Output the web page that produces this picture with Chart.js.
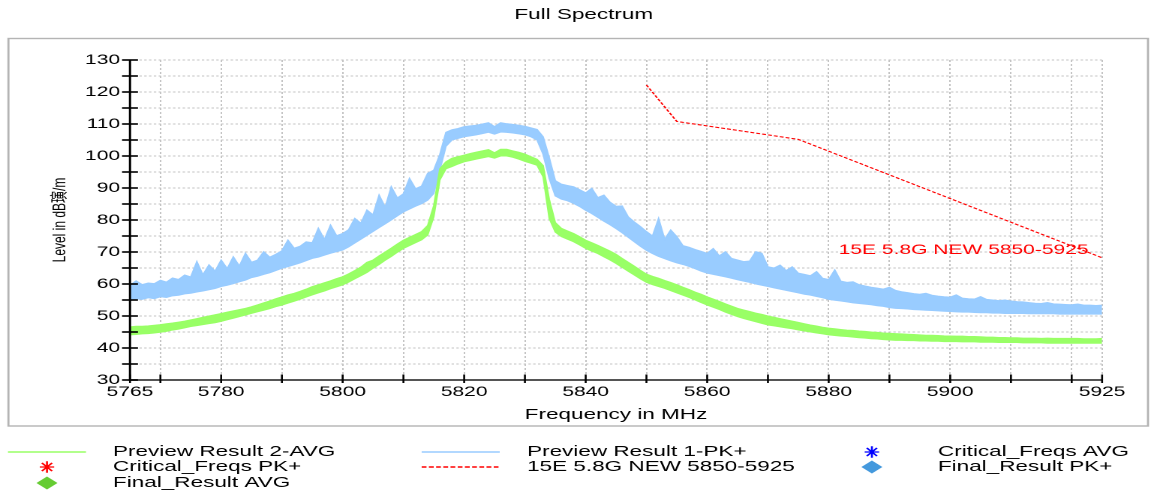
<!DOCTYPE html>
<html><head><meta charset="utf-8">
<script src="https://cdn.jsdelivr.net/npm/chart.js@4.4.1/dist/chart.umd.min.js"></script>
<style>
html,body{margin:0;padding:0;background:#fff;overflow:hidden;}
#wrap{position:absolute;left:0;top:0;width:771px;height:493px;transform:scaleX(1.50065);transform-origin:0 0;}
canvas{display:block;}
</style></head><body>
<div id="wrap"><canvas id="c" width="771" height="493"></canvas></div>
<script>
const chartTitle = 'Full Spectrum';
const xTitle = 'Frequency in MHz';
const yTitle = 'Level in dB璌/m';
const limitLabel = '15E 5.8G NEW 5850-5925';

const freqMHz = [
5765,5766,5767,5768,5769,5770,5771,5772,5773,5774,
5775,5776,5777,5778,5779,5780,5781,5782,5783,5784,
5785,5786,5787,5788,5789,5790,5791,5792,5793,5794,
5795,5796,5797,5798,5799,5800,5801,5802,5803,5804,
5805,5806,5807,5808,5809,5810,5811,5812,5813,5814,
5815,5816,5817,5818,5819,5820,5821,5822,5823,5824,
5825,5826,5827,5828,5829,5830,5831,5832,5833,5834,
5835,5836,5837,5838,5839,5840,5841,5842,5843,5844,
5845,5846,5847,5848,5849,5850,5851,5852,5853,5854,
5855,5856,5857,5858,5859,5860,5861,5862,5863,5864,
5865,5866,5867,5868,5869,5870,5871,5872,5873,5874,
5875,5876,5877,5878,5879,5880,5881,5882,5883,5884,
5885,5886,5887,5888,5889,5890,5891,5892,5893,5894,
5895,5896,5897,5898,5899,5900,5901,5902,5903,5904,
5905,5906,5907,5908,5909,5910,5911,5912,5913,5914,
5915,5916,5917,5918,5919,5920,5921,5922,5923,5924,
5925];

// Preview Result 2-AVG : lower / upper edge of the trace band (dBuV/m)
const avgLower = [
44.1,44.2,44.4,44.5,44.7,44.9,45.2,45.6,45.9,46.3,
46.7,47.0,47.3,47.6,47.9,48.3,48.8,49.3,49.8,50.3,
50.8,51.3,51.8,52.3,52.9,53.4,54.0,54.6,55.2,55.9,
56.6,57.2,57.8,58.5,59.1,59.7,60.6,61.6,62.6,63.6,
64.9,66.1,67.4,68.6,69.9,71.1,72.0,72.9,73.8,75.3,
81.0,92.5,96.0,96.7,97.5,98.2,98.6,99.0,99.4,99.8,
99.3,100.0,100.0,99.6,99.0,98.3,97.7,97.1,93.5,80.5,
76.2,74.8,74.0,73.2,72.2,71.1,70.3,69.5,68.5,67.5,
66.4,65.2,64.0,62.8,61.6,60.5,59.8,59.2,58.6,57.9,
57.2,56.5,55.8,55.0,54.2,53.4,52.7,52.0,51.2,50.5,
49.8,49.2,48.7,48.2,47.7,47.2,46.9,46.6,46.3,46.0,
45.6,45.3,45.0,44.7,44.4,44.1,43.9,43.7,43.6,43.4,
43.2,43.1,42.9,42.8,42.6,42.5,42.4,42.4,42.3,42.3,
42.2,42.2,42.1,42.1,42.0,42.0,42.0,41.9,41.9,41.9,
41.8,41.8,41.8,41.7,41.7,41.7,41.7,41.6,41.6,41.6,
41.6,41.5,41.5,41.5,41.5,41.5,41.5,41.5,41.5,41.5,
41.5];
const avgUpper = [
46.6,46.8,46.8,46.9,47.1,47.3,47.6,47.8,48.1,48.4,
48.8,49.2,49.6,50.0,50.4,50.8,51.2,51.6,52.0,52.4,
52.9,53.5,54.1,54.7,55.4,56.0,56.6,57.1,57.7,58.4,
59.2,59.8,60.4,61.0,61.7,62.3,63.2,64.2,65.3,66.8,
67.5,68.8,70.0,71.2,72.5,73.7,74.6,75.5,76.4,78.3,
84.5,96.0,98.2,99.3,99.8,100.3,100.8,101.2,101.6,102.0,
101.0,102.1,102.1,101.6,101.2,100.6,99.8,99.0,97.0,86.5,
79.2,77.4,76.6,75.8,74.8,73.7,72.9,72.1,71.2,70.3,
69.3,68.0,66.8,65.6,64.3,63.1,62.4,61.8,61.1,60.5,
59.8,59.0,58.3,57.5,56.8,56.0,55.3,54.6,53.8,53.1,
52.4,51.9,51.4,50.9,50.5,50.0,49.6,49.2,48.8,48.4,
48.0,47.6,47.2,46.9,46.5,46.2,46.0,45.8,45.6,45.5,
45.3,45.2,45.0,44.9,44.7,44.6,44.5,44.4,44.3,44.2,
44.1,44.0,44.0,43.9,43.8,43.75,43.7,43.7,43.6,43.6,
43.5,43.4,43.4,43.3,43.3,43.2,43.2,43.1,43.1,43.1,
43.0,43.1,43.0,43.0,43.0,43.0,43.0,42.9,42.9,42.9,
43.0];

// Preview Result 1-PK+ : lower / upper edge of the trace band (dBuV/m)
const pkLower = [
54.8,55.4,55.2,55.7,55.4,56.0,55.8,56.3,56.5,56.9,
57.1,57.5,57.8,58.2,58.6,59.2,59.6,60.1,60.7,61.2,
62.0,62.4,63.0,63.5,64.2,64.9,65.4,66.0,66.6,67.3,
68.0,68.4,69.0,69.6,70.1,70.6,71.6,72.8,74.0,75.2,
76.4,77.6,78.8,80.0,81.3,82.5,83.4,84.3,85.1,86.2,
88.3,95.6,103.0,105.0,105.5,106.0,106.3,106.6,107.0,107.4,
106.8,107.5,107.4,107.2,106.9,106.6,106.0,105.0,100.5,93.0,
87.5,86.5,86.0,85.2,84.2,83.0,82.0,80.8,79.6,78.5,
77.3,76.0,74.6,73.2,71.8,70.5,69.5,68.6,67.9,67.2,
66.6,66.1,65.5,64.8,64.0,63.4,63.0,62.6,62.2,61.8,
61.3,60.9,60.5,60.0,59.6,59.2,58.8,58.4,58.0,57.6,
57.2,56.8,56.5,56.1,55.7,55.2,54.9,54.7,54.4,54.1,
53.9,53.7,53.5,53.2,53.0,52.6,52.4,52.3,52.2,52.0,
51.9,51.8,51.7,51.6,51.5,51.4,51.3,51.2,51.2,51.1,
51.0,51.0,50.9,50.9,50.8,50.8,50.8,50.8,50.7,50.7,
50.7,50.7,50.7,50.6,50.6,50.6,50.6,50.6,50.6,50.6,
50.6];
const pkUpper = [
59.6,61.0,59.8,60.3,60.1,61.2,60.6,61.9,61.4,62.8,
62.2,67.0,62.9,66.0,64.0,67.5,64.8,68.5,65.6,69.6,
66.8,67.5,70.1,68.4,69.3,70.4,73.7,71.2,71.8,73.2,
72.9,77.4,73.9,78.4,75.1,75.8,77.0,80.5,79.0,83.1,
81.6,87.8,84.0,90.4,86.9,88.2,93.0,89.8,90.6,94.6,
95.6,100.5,107.4,108.2,108.6,109.2,109.4,109.6,110.0,110.4,
109.2,110.4,110.1,109.9,109.6,109.3,108.8,108.3,106.0,99.5,
92.3,91.2,90.8,90.4,89.5,88.5,89.9,87.0,87.8,85.6,
84.3,84.4,81.0,79.4,78.0,76.4,75.0,80.5,74.0,76.9,
74.8,72.0,71.5,70.8,70.2,69.6,71.1,68.8,70.1,68.0,
67.5,67.0,67.2,70.1,69.6,65.4,65.0,65.9,64.2,65.4,
63.4,63.0,62.6,63.9,61.8,61.4,64.4,60.9,60.5,60.7,
59.8,59.4,59.0,58.7,58.4,59.0,58.0,57.6,57.3,57.0,
56.8,57.1,56.5,56.2,56.0,55.9,56.6,55.6,55.4,55.3,
56.05,55.2,55.0,54.8,55.0,54.7,54.5,54.4,54.2,54.0,
53.9,54.2,53.8,53.7,53.6,53.5,53.75,53.4,53.4,53.3,
53.4];

// 15E 5.8G NEW 5850-5925 limit line
const limitFreq = [5850, 5855, 5875, 5925];
const limitLevel = [122.2, 110.8, 105.2, 68.2];

const xTickValues = [5765,5770,5780,5790,5800,5810,5820,5830,5840,5850,5860,5870,5880,5890,5900,5910,5920,5925];
const xLabelValues = [5765,5780,5800,5820,5840,5860,5880,5900,5925];
const yTickValues = [30,35,40,45,50,55,60,65,70,75,80,85,90,95,100,105,110,115,120,125,130];
const yLabelValues = [30,40,50,60,70,80,90,100,110,120,130];

const FONT = "'Liberation Sans', Arial, 'Noto Sans CJK SC', sans-serif";
const GREEN = '#99ff66', BLUE = '#99ccff', RED = '#ff0000';

const pts = (xs, ys) => xs.map((x, i) => ({x: x, y: ys[i]}));

const datasets = [
  {label:'Preview Result 2-AVG', data:pts(freqMHz, avgUpper), borderColor:GREEN, backgroundColor:GREEN, borderWidth:1, fill:'+1', legendMarker:'line', legendColor:GREEN, legendPos:0},
  {label:'', data:pts(freqMHz, avgLower), borderColor:GREEN, backgroundColor:GREEN, borderWidth:1, fill:false},
  {label:'Preview Result 1-PK+', data:pts(freqMHz, pkUpper), borderColor:BLUE, backgroundColor:BLUE, borderWidth:1, fill:'+1', legendMarker:'line', legendColor:BLUE, legendPos:1},
  {label:'', data:pts(freqMHz, pkLower), borderColor:BLUE, backgroundColor:BLUE, borderWidth:1, fill:false},
  {label:'15E 5.8G NEW 5850-5925', data:pts(limitFreq, limitLevel), borderColor:RED, borderWidth:1.1, borderDash:[2.6,1.4], fill:false, legendMarker:'dash', legendColor:RED, legendPos:4},
  {label:'Critical_Freqs AVG', data:[], pointStyle:'star', borderColor:'#0000ff', legendMarker:'star', legendColor:'#0000ff', legendPos:2},
  {label:'Critical_Freqs PK+', data:[], pointStyle:'star', borderColor:RED, legendMarker:'star', legendColor:RED, legendPos:3},
  {label:'Final_Result PK+', data:[], pointStyle:'rectRot', backgroundColor:'#4499dd', legendMarker:'diamond', legendColor:'#4499dd', legendPos:5},
  {label:'Final_Result AVG', data:[], pointStyle:'rectRot', backgroundColor:'#66cc33', legendMarker:'diamond', legendColor:'#66cc33', legendPos:6}
];

const decor = {
  id:'decor',
  beforeDraw(chart){
    const ctx = chart.ctx;
    ctx.save();
    ctx.fillStyle = '#fff';
    ctx.fillRect(0,0,chart.width,chart.height);
    ctx.strokeStyle = '#b4b4b4';
    ctx.lineWidth = 1.4;
    ctx.strokeRect(5.6, 38.5, 759.4, 387.5);
    // chart title
    ctx.fillStyle = '#000';
    ctx.font = '15px ' + FONT;
    ctx.textAlign = 'center';
    ctx.textBaseline = 'middle';
    ctx.fillText(chartTitle, 389, 15);
    ctx.restore();
  },
  afterDraw(chart){
    const ctx = chart.ctx;
    const a = chart.chartArea;
    const xs = chart.scales.x, ys = chart.scales.y;
    ctx.save();
    // axes
    ctx.strokeStyle = '#555';
    ctx.lineWidth = 2;
    ctx.beginPath(); ctx.moveTo(a.left, a.bottom); ctx.lineTo(a.right, a.bottom); ctx.stroke();
    ctx.strokeStyle = '#000';
    ctx.lineWidth = 1.5;
    ctx.beginPath(); ctx.moveTo(a.left, a.top); ctx.lineTo(a.left, a.bottom+1); ctx.stroke();
    // y tick marks (crossing the axis)
    ctx.lineWidth = 1.6;
    yTickValues.forEach(v => {
      const y = ys.getPixelForValue(v);
      ctx.beginPath(); ctx.moveTo(a.left-5.3, y); ctx.lineTo(a.left+5.3, y); ctx.stroke();
    });
    // x tick marks
    ctx.lineWidth = 1.3;
    xTickValues.forEach(v => {
      const x = xs.getPixelForValue(v);
      ctx.beginPath(); ctx.moveTo(x, a.bottom-5.5); ctx.lineTo(x, a.bottom+3); ctx.stroke();
    });
    // limit line label
    const li = limitFreq.length - 1;
    ctx.fillStyle = RED;
    ctx.font = '14px ' + FONT;
    ctx.textAlign = 'right';
    ctx.textBaseline = 'middle';
    ctx.fillText(limitLabel, xs.getPixelForValue(limitFreq[li]) - 9, ys.getPixelForValue(limitLevel[li]) - 7.5);
    // legend
    const colMarker = [31.3, 307, 581], colText = [75.3, 351.2, 625], rowY = [452, 467, 483];
    ctx.font = '15px ' + FONT;
    ctx.textAlign = 'left';
    chart.data.datasets.forEach(ds => {
      if (ds.legendPos === undefined) return;
      const c = ds.legendPos % 3, r = Math.floor(ds.legendPos / 3);
      const cx = colMarker[c], cy = rowY[r];
      ctx.save();
      if (ds.legendMarker === 'line' || ds.legendMarker === 'dash') {
        ctx.strokeStyle = ds.legendColor;
        ctx.lineWidth = 1.5;
        if (ds.legendMarker === 'dash') ctx.setLineDash([3.2, 1.6]);
        ctx.beginPath(); ctx.moveTo(cx-26, cy); ctx.lineTo(cx+26, cy); ctx.stroke();
      } else if (ds.legendMarker === 'star') {
        ctx.strokeStyle = ds.legendColor;
        ctx.lineWidth = 1.3;
        ctx.beginPath();
        for (let k = 0; k < 4; k++) {
          const ang = k * Math.PI / 4;
          const dx = Math.cos(ang) * 4.8, dy = Math.sin(ang) * 5.8;
          ctx.moveTo(cx-dx, cy-dy); ctx.lineTo(cx+dx, cy+dy);
        }
        ctx.stroke();
      } else if (ds.legendMarker === 'diamond') {
        ctx.fillStyle = ds.legendColor;
        ctx.beginPath();
        ctx.moveTo(cx, cy-6.5); ctx.lineTo(cx+7, cy); ctx.lineTo(cx, cy+6.5); ctx.lineTo(cx-7, cy); ctx.closePath();
        ctx.fill();
      }
      ctx.restore();
      ctx.fillStyle = '#000';
      ctx.textBaseline = 'middle';
      ctx.fillText(ds.label, colText[c], cy);
    });
    ctx.restore();
  }
};

new Chart(document.getElementById('c'), {
  type:'line',
  data:{datasets:datasets},
  options:{
    responsive:false,
    devicePixelRatio:2,
    animation:false,
    events:[],
    elements:{point:{radius:0}, line:{tension:0}},
    layout:{padding:{left:0, top:60, right:36.6, bottom:0}},
    plugins:{
      legend:{display:false},
      tooltip:{enabled:false},
      title:{display:false}
    },
    scales:{
      x:{
        type:'linear', min:5765, max:5925,
        afterBuildTicks: s => { s.ticks = xTickValues.map(v => ({value:v})); },
        afterFit: s => { s.height = 113; },
        ticks:{autoSkip:false, maxRotation:0, minRotation:0, padding:3.6, color:'#000', font:{family:FONT, size:14},
               callback: v => xLabelValues.includes(v) ? String(v) : ''},
        grid:{color:'#c4c4c4', lineWidth:1, drawTicks:false},
        border:{display:false, dash:[2,2]},
        title:{display:true, text:xTitle, color:'#000', font:{family:FONT, size:15}, padding:{top:0, bottom:69}}
      },
      y:{
        type:'linear', min:30, max:130,
        afterBuildTicks: s => { s.ticks = yTickValues.map(v => ({value:v})); },
        afterFit: s => { s.width = 86.63; },
        ticks:{autoSkip:false, padding:6.6, color:'#000', font:{family:FONT, size:14},
               callback: v => yLabelValues.includes(v) ? String(v) : ''},
        grid:{color:'#c4c4c4', lineWidth:1, drawTicks:false},
        border:{display:false, dash:[1.6,1.6]},
        title:{display:true, text:yTitle, color:'#000', font:{family:FONT, size:12}, padding:{top:32.8, bottom:0}}
      }
    }
  },
  plugins:[decor]
});
</script>
</body></html>
